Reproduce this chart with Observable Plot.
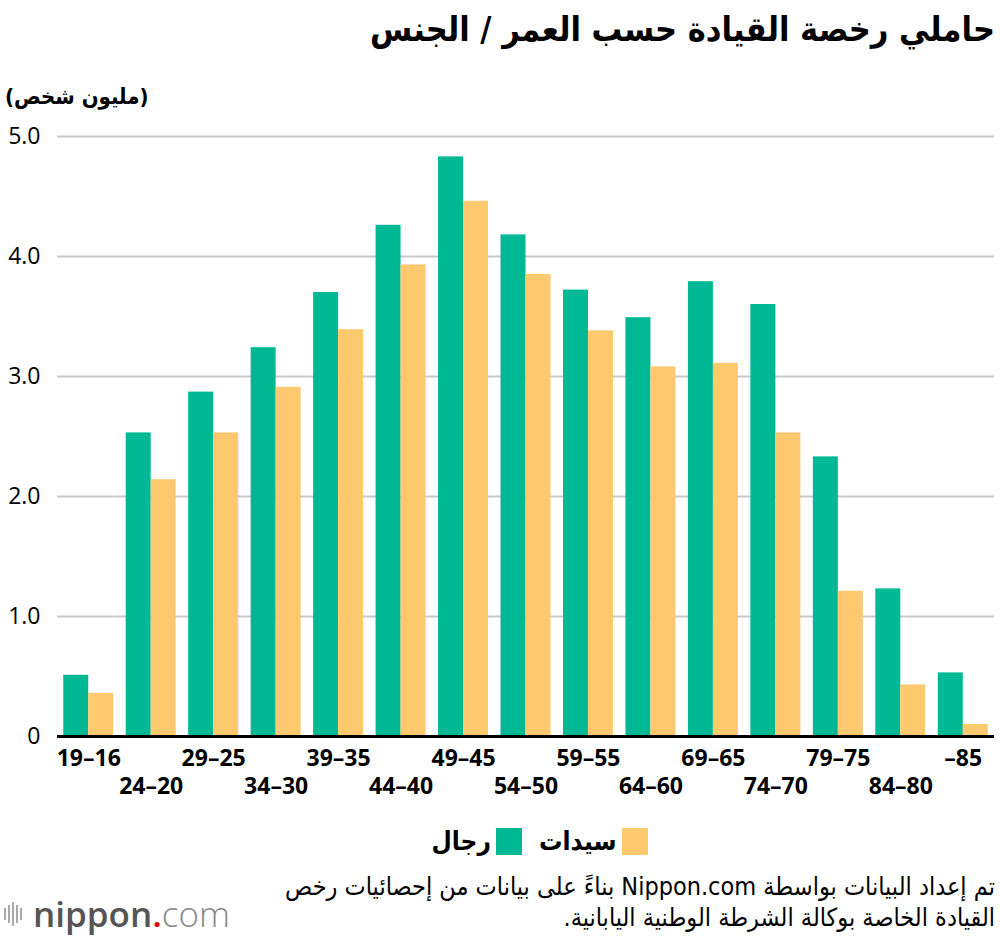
<!DOCTYPE html>
<html>
<head>
<meta charset="utf-8">
<script src="https://cdn.jsdelivr.net/npm/d3@7"></script>
<script src="https://cdn.jsdelivr.net/npm/@observablehq/plot@0.6"></script>
<style>
  body { margin:0; width:1000px; background:#fff; color:#000; }
  .ar { font-family: "DejaVu Sans Condensed", "DejaVu Sans", sans-serif; }
  #title { height:60px; line-height:58px; direction:rtl; text-align:right; padding-right:5px; font-size:34px; font-weight:bold; }
  #ylab { height:50px; box-sizing:border-box; padding-top:25px; line-height:24px; padding-left:5px; font-size:22px; font-weight:bold; }
  #ylab span { direction:rtl; unicode-bidi:embed; }
  #legend { height:55px; box-sizing:border-box; padding-top:15px; display:flex; direction:rtl; justify-content:center; align-items:center; padding-left:62px; font-size:26px; font-weight:bold; }
  #legend .sw { width:26px; height:27px; margin-left:5px; }
  #legend .lab { margin-left:17px; line-height:26px; }
  #footer { position:relative; height:77px; box-sizing:border-box; padding-top:10px; }
  #caption { direction:rtl; text-align:right; padding-right:5px; font-size:25px; line-height:31px; }
  #logo { position:absolute; left:4px; top:34px; display:flex; align-items:center; font-family:"Open Sans", sans-serif; font-size:35px; line-height:38px; }
  #logo .bars { display:flex; align-items:center; margin-right:9px; }
  #logo .bars i { display:block; width:2px; background:#aaa; margin-right:2px; }
</style>
</head>
<body>
<div id="title" class="ar">حاملي رخصة القيادة حسب العمر / الجنس</div>
<div id="ylab" class="ar"><span>(مليون شخص)</span></div>
<div id="chart"></div>
<div id="legend" class="ar"></div>
<div id="footer">
  <div id="caption" class="ar">تم إعداد البيانات بواسطة Nippon.com بناءً على بيانات من إحصائيات رخص<br>القيادة الخاصة بوكالة الشرطة الوطنية اليابانية.</div>
  <div id="logo"><span class="bars"><i style="height:12px"></i><i style="height:18px"></i><i style="height:24px"></i><i style="height:18px"></i><i style="height:12px"></i></span><span style="color:#555;font-weight:600">nippon</span><span style="color:#e60012;font-weight:600">.</span><span style="color:#888;font-weight:300">com</span></div>
</div>
<script>
const ages = ["19–16","24–20","29–25","34–30","39–35","44–40","49–45","54–50","59–55","64–60","69–65","74–70","79–75","84–80","–85"];
const men   = [0.51, 2.53, 2.87, 3.24, 3.70, 4.26, 4.83, 4.18, 3.72, 3.49, 3.79, 3.60, 2.33, 1.23, 0.53];
const women = [0.36, 2.14, 2.53, 2.91, 3.39, 3.93, 4.46, 3.85, 3.38, 3.08, 3.11, 2.53, 1.21, 0.43, 0.10];
const yTicks = [0, 1, 2, 3, 4, 5];
const seriesNames = ["سيدات", "رجال"];
const GREEN = "#00b894", YELLOW = "#fdc96f";

const rows = ages.map((a, i) => ({age: a, men: men[i], women: women[i]}));

const W = 1000, ML = 57, MR = 6, PI = 0.2, PO = 0.1;
const step = (W - ML - MR) / (ages.length - PI + 2 * PO);
const half = step * (1 - PI) / 2;
const numFont = "'Open Sans', sans-serif";

const chart = Plot.plot({
  width: W, height: 696,
  marginTop: 26, marginBottom: 70, marginLeft: ML, marginRight: MR,
  style: {fontFamily: numFont, color: "#000", background: "#fff"},
  x: {domain: ages, paddingInner: PI, paddingOuter: PO, round: false},
  y: {domain: [0, 5]},
  marks: [
    Plot.gridY(yTicks.slice(1), {stroke: "#c8c8c8", strokeOpacity: 1, strokeWidth: 2}),
    Plot.barY(rows, {x: "age", y: "men", fill: GREEN, insetRight: half}),
    Plot.barY(rows, {x: "age", y: "women", fill: YELLOW, insetLeft: half}),
    Plot.ruleY([0], {stroke: "#000", strokeWidth: 3}),
    Plot.axisY(yTicks, {tickSize: 0, tickPadding: 17, fontSize: 23, label: null,
      tickFormat: d => d === 0 ? "0" : d.toFixed(1)}),
    Plot.axisX(ages.filter((d, i) => i % 2 === 0), {tickSize: 0, tickPadding: 13, fontSize: 23, fontWeight: "bold", label: null}),
    Plot.axisX(ages.filter((d, i) => i % 2 === 1), {tickSize: 0, tickPadding: 41, fontSize: 23, fontWeight: "bold", label: null})
  ]
});
document.getElementById("chart").appendChild(chart);

const legend = document.getElementById("legend");
[[seriesNames[0], YELLOW], [seriesNames[1], GREEN]].forEach(([name, c]) => {
  const sw = document.createElement("div"); sw.className = "sw"; sw.style.background = c;
  const lb = document.createElement("div"); lb.className = "lab"; lb.textContent = name;
  legend.appendChild(sw); legend.appendChild(lb);
});
</script>
</body>
</html>
